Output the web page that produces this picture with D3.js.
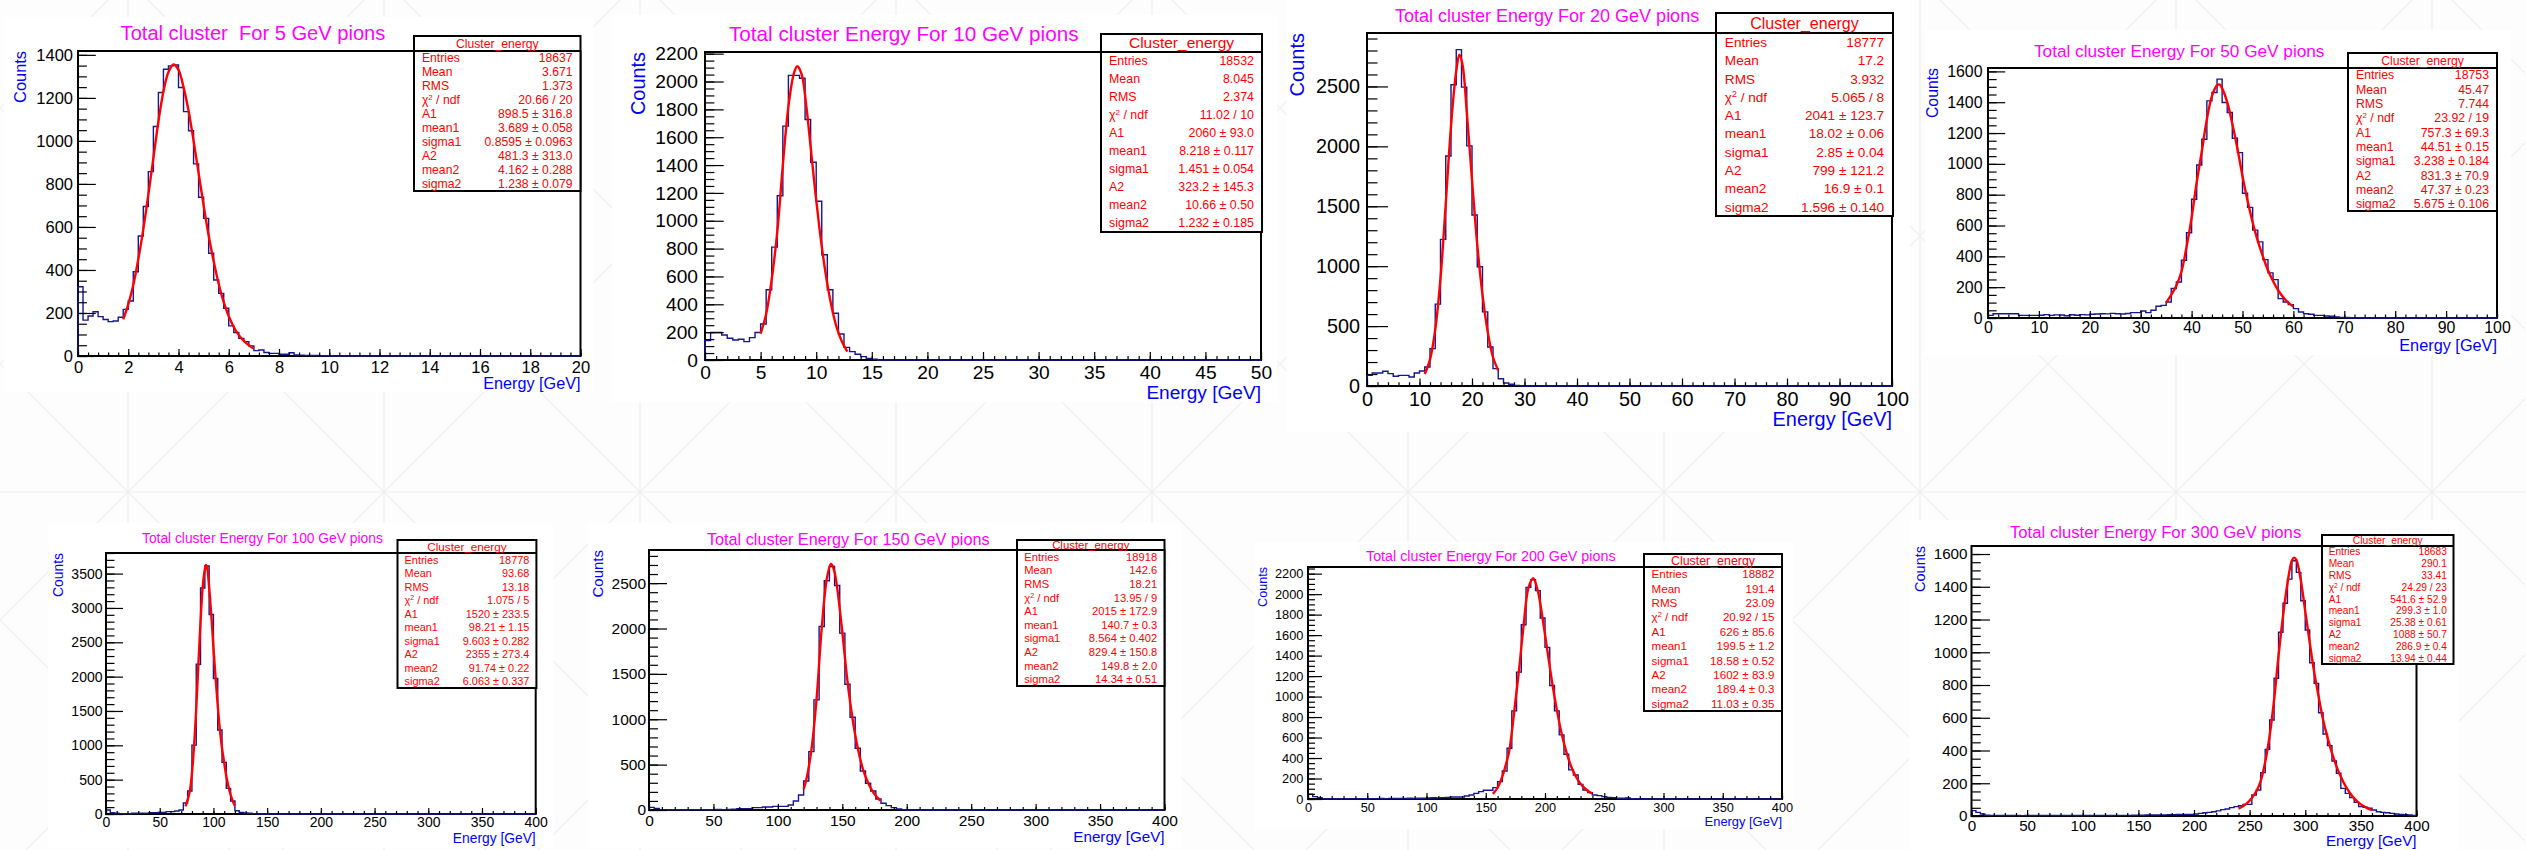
<!DOCTYPE html>
<html>
<head>
<meta charset="utf-8">
<script src="https://cdn.jsdelivr.net/npm/d3@7"></script>
<style>
body { margin: 0; background: #fdfdfd; }
svg { display: block; font-family: "Liberation Sans", Arial, Helvetica, sans-serif; }
text { white-space: pre; }
</style>
</head>
<body>
<svg id="chart" width="2526" height="850"></svg>
<script>
// ---- data ----
var energies = [5, 10, 20, 50, 100, 150, 200, 300];
var titles = [
  "Total cluster  For 5 GeV pions",
  "Total cluster Energy For 10 GeV pions",
  "Total cluster Energy For 20 GeV pions",
  "Total cluster Energy For 50 GeV pions",
  "Total cluster Energy For 100 GeV pions",
  "Total cluster Energy For 150 GeV pions",
  "Total cluster Energy For 200 GeV pions",
  "Total cluster Energy For 300 GeV pions"
];
var binWidths = [0.2, 0.5, 1, 1, 4, 4, 4, 4];
var xMaxes = [20, 50, 100, 100, 400, 400, 400, 400];
var statNames = ["Entries", "Mean", "RMS", "chi2", "A1", "mean1", "sigma1", "A2", "mean2", "sigma2"];

// bin contents from 0 upward; bins after the last listed one are empty
var counts5 = [322,167,186,206,183,170,160,163,180,217,256,392,558,695,857,1067,1225,1333,1349,1353,
  1248,1136,1047,893,738,640,478,353,291,222,140,109,82,67,47,25,28,16,12,12,8,8,15,5,4,3,2,2,1,1];
var counts10 = [139,197,197,180,156,144,149,132,161,197,259,504,811,1180,1680,2044,2044,2023,1727,1420,
  1140,756,504,336,187,91,60,41,24,12,5];
var counts20 = [89,109,109,123,103,81,89,89,75,109,125,159,312,683,1224,1920,2514,2807,2494,2004,
  1427,995,619,326,145,61,25,14,5];
var counts50 = [17,28,28,28,28,28,17,17,17,17,18,22,17,20,19,15,21,18,22,20,
  24,26,28,27,30,28,26,29,35,35,45,35,50,76,82,104,191,234,375,553,
  770,993,1160,1409,1463,1550,1398,1333,1166,1073,809,718,570,494,379,293,249,126,104,87,
  61,39,28,24,17,17,13,11,7,4,3];
var counts100 = [58,19,10,3,3,3,12,12,12,12,19,19,24,24,34,34,44,58,160,334,
  1003,2181,3291,3611,2904,1973,1222,751,373,189,48,24,15,10,5];
var counts150 = [29,18,3,2,4,3,2,3,4,2,3,3,4,5,4,6,8,15,15,15,
  26,26,33,33,40,40,40,55,99,165,320,643,1213,2022,2526,2684,2474,1949,1386,1022,
  680,430,294,210,121,74,48,26,11,4];
var counts200 = [46,23,13,4,3,3,4,3,3,4,3,4,3,4,4,5,4,5,6,5,
  6,7,6,8,9,10,12,11,13,15,20,20,20,29,39,55,72,85,85,111,
  170,274,495,860,1239,1701,2066,2141,2034,1767,1480,1108,860,626,437,284,235,143,88,62,
  39,33,23,16,13,7,7,10,3,2];
var counts300 = [33,22,12,5,4,4,3,3,3,3,3,2,3,3,3,3,3,3,3,3,
  3,3,3,3,3,3,3,3,3,3,3,3,4,4,4,4,5,5,5,6,
  6,6,7,7,8,8,9,10,10,10,12,16,20,22,26,31,39,43,51,57,
  63,71,71,128,159,265,407,586,841,1122,1299,1447,1559,1488,1315,1136,936,810,631,501,
  430,336,261,169,138,112,83,57,53,47,37,26,22,20,16,12,10,8,6,4];

// red fit curves (energy, counts)
var fitX5 = [1.8,2.0,2.2,2.4,2.6,2.8,3.0,3.2,3.4,3.6,3.8,4.0,4.2,4.4,4.6,4.8,5.0,5.2,5.4,5.6,5.8,6.0,6.2,6.4,6.6,6.8,7.0];
var fitY5 = [170,240,330,450,590,750,920,1090,1230,1320,1355,1330,1250,1140,1000,850,700,560,440,335,250,185,135,97,70,50,35];
var fitX10 = [5.0,5.5,6.0,6.5,7.0,7.5,8.0,8.3,8.7,9.1,9.5,9.9,10.3,10.7,11.1,11.5,11.9,12.3,12.8];
var fitY10 = [190,330,580,920,1400,1820,2060,2110,2050,1830,1530,1220,940,700,500,340,220,135,60];
var fitX20 = [11,12,13,14,15,16,17,17.6,18.2,19,20,21,22,23,24,25];
var fitY20 = [100,220,470,900,1520,2170,2630,2765,2680,2290,1720,1180,760,450,240,130];
var fitX50 = [35,36,37,38,39,40,41,42,43,44,45,45.5,46,47,48,49,50,51,52,53,54,55,56,57,58,59,60];
var fitY50 = [100,150,210,300,460,650,880,1080,1290,1440,1510,1515,1490,1400,1260,1100,920,760,620,500,400,310,240,180,135,100,75];
var fitX100 = [74,78,82,86,88,90,92,93,94,96,98,100,102,104,106,108,110,112,114,116,118,120];
var fitY100 = [110,330,1000,2180,2800,3300,3560,3625,3600,3300,2900,2430,1980,1580,1230,960,750,550,400,280,190,120];
var fitX150 = [120,122,126,130,134,138,141,142,144,146,150,154,158,162,166,170,174,178,180];
var fitY150 = [230,330,660,1220,2000,2550,2710,2700,2620,2450,1960,1420,1000,680,450,300,195,125,100];
var fitX200 = [156,160,164,168,170,174,178,182,186,190,194,198,202,206,210,214,218,222,226,230,234,238,240];
var fitY200 = [50,110,220,380,480,850,1250,1700,2060,2155,2030,1760,1450,1140,870,640,460,320,220,150,100,65,55];
var fitX300 = [240,244,248,252,256,260,264,268,272,276,280,284,288,290,292,296,300,304,308,312,316,320,324,328,332,336,340,344,348,352,356,360];
var fitY300 = [45,60,80,110,150,215,330,490,710,980,1220,1420,1560,1578,1565,1440,1250,1060,880,730,590,480,385,305,240,185,142,108,82,62,47,36];

// stats box values
var stats5 = ["18637","3.671","1.373","20.66 / 20","898.5 \u00b1 316.8","3.689 \u00b1 0.058","0.8595 \u00b1 0.0963","481.3 \u00b1 313.0","4.162 \u00b1 0.288","1.238 \u00b1 0.079"];
var stats10 = ["18532","8.045","2.374","11.02 / 10","2060 \u00b1 93.0","8.218 \u00b1 0.117","1.451 \u00b1 0.054","323.2 \u00b1 145.3","10.66 \u00b1 0.50","1.232 \u00b1 0.185"];
var stats20 = ["18777","17.2","3.932","5.065 / 8","2041 \u00b1 123.7","18.02 \u00b1 0.06","2.85 \u00b1 0.04","799 \u00b1 121.2","16.9 \u00b1 0.1","1.596 \u00b1 0.140"];
var stats50 = ["18753","45.47","7.744","23.92 / 19","757.3 \u00b1 69.3","44.51 \u00b1 0.15","3.238 \u00b1 0.184","831.3 \u00b1 70.9","47.37 \u00b1 0.23","5.675 \u00b1 0.106"];
var stats100 = ["18778","93.68","13.18","1.075 / 5","1520 \u00b1 233.5","98.21 \u00b1 1.15","9.603 \u00b1 0.282","2355 \u00b1 273.4","91.74 \u00b1 0.22","6.063 \u00b1 0.337"];
var stats150 = ["18918","142.6","18.21","13.95 / 9","2015 \u00b1 172.9","140.7 \u00b1 0.3","8.564 \u00b1 0.402","829.4 \u00b1 150.8","149.8 \u00b1 2.0","14.34 \u00b1 0.51"];
var stats200 = ["18882","191.4","23.09","20.92 / 15","626 \u00b1 85.6","199.5 \u00b1 1.2","18.58 \u00b1 0.52","1602 \u00b1 83.9","189.4 \u00b1 0.3","11.03 \u00b1 0.35"];
var stats300 = ["18683","290.1","33.41","24.29 / 23","541.6 \u00b1 52.9","299.3 \u00b1 1.0","25.38 \u00b1 0.61","1088 \u00b1 50.7","286.9 \u00b1 0.4","13.94 \u00b1 0.44"];

var allCounts = [counts5, counts10, counts20, counts50, counts100, counts150, counts200, counts300];
var allFitX = [fitX5, fitX10, fitX20, fitX50, fitX100, fitX150, fitX200, fitX300];
var allFitY = [fitY5, fitY10, fitY20, fitY50, fitY100, fitY150, fitY200, fitY300];
var allStats = [stats5, stats10, stats20, stats50, stats100, stats150, stats200, stats300];

// ---- layout of the eight pads (pixels) ----
var layout = [
  {x0:78, x1:580.5, y0:51, y1:356, yMax:1418, xStep:2, xMinor:0.4, yStep:200, yMinor:50, yTick:17.8, xTick:7, ylPad:5, xlPad:5,
   tickFont:16.5, titleFont:20.1, titleX:120.6, titleY:40, statFont:12.2, headFont:12.2, box:[414,580.5,36,191],
   axisFont:16.2, countsFont:16.4, countsX:20.6, energyY:383, canvas:[4,17,593,392]},
  {x0:705, x1:1261, y0:52, y1:360, yMax:2212, xStep:5, xMinor:1, yStep:200, yMinor:50, yTick:18.7, xTick:8, ylPad:7, xlPad:5,
   tickFont:19.2, titleFont:20.7, titleX:729, titleY:41, statFont:12.4, headFont:15.5, box:[1101,1262,34,232],
   axisFont:19.1, countsFont:19.9, countsX:638, energyY:392, canvas:[612,15,1277,402]},
  {x0:1367, x1:1892, y0:33, y1:386, yMax:2946, xStep:10, xMinor:2, yStep:500, yMinor:100, yTick:21, xTick:7.5, ylPad:7, xlPad:6,
   tickFont:19.8, titleFont:18, titleX:1395, titleY:22, statFont:13.6, headFont:16, box:[1716,1893,13,216],
   axisFont:19.9, countsFont:20, countsX:1297, energyY:419, canvas:[1287,0,1910,432]},
  {x0:1988, x1:2497, y0:68, y1:318, yMax:1622, xStep:10, xMinor:2, yStep:200, yMinor:50, yTick:17.2, xTick:7, ylPad:5.5, xlPad:4,
   tickFont:15.9, titleFont:17.2, titleX:2034, titleY:57, statFont:12.3, headFont:12.2, box:[2348,2497,53,211],
   axisFont:16.3, countsFont:15.8, countsX:1932, energyY:345, canvas:[1925,30,2511,355]},
  {x0:106, x1:535.7, y0:553, y1:814, yMax:3800, xStep:50, xMinor:10, yStep:500, yMinor:100, yTick:17, xTick:6, ylPad:3.5, xlPad:3.5,
   tickFont:14, titleFont:13.8, titleX:142, titleY:543, statFont:10.9, headFont:11.7, box:[397.5,536.4,540,688],
   axisFont:13.8, countsFont:13.9, countsX:58, energyY:838, canvas:[48,523,553,848]},
  {x0:649, x1:1164.5, y0:550, y1:810, yMax:2865, xStep:50, xMinor:10, yStep:500, yMinor:100, yTick:18, xTick:6, ylPad:3, xlPad:4.5,
   tickFont:15.5, titleFont:16.2, titleX:707, titleY:545, statFont:11.2, headFont:11.4, box:[1017,1164.5,540,686],
   axisFont:15.2, countsFont:15, countsX:598, energyY:837, canvas:[588,523,1181,848]},
  {x0:1308, x1:1782, y0:567, y1:799, yMax:2265, xStep:50, xMinor:10, yStep:200, yMinor:50, yTick:14, xTick:6, ylPad:4.6, xlPad:4.3,
   tickFont:12.8, titleFont:14.3, titleX:1366, titleY:561, statFont:11.6, headFont:12.4, box:[1644,1782,554,711],
   axisFont:12.9, countsFont:12.6, countsX:1263, energyY:821, canvas:[1254,542,1793,829]},
  {x0:1971.5, x1:2416.5, y0:546, y1:816, yMax:1649, xStep:50, xMinor:10, yStep:200, yMinor:50, yTick:18.5, xTick:6, ylPad:4, xlPad:4.6,
   tickFont:15.2, titleFont:16.7, titleX:2010, titleY:538, statFont:10.2, headFont:10.3, box:[2322,2453.5,535,664],
   axisFont:15.1, countsFont:14.5, countsX:1920, energyY:841, canvas:[1909,520,2459,850]}
];

var svg = d3.select("#chart");

// faint page background pattern
var bg = svg.append("g");
bg.append("rect").attr("width", 2526).attr("height", 850).attr("fill", "#fdfdfd");
d3.range(128 - 256 * 4, 2526 + 256 * 4, 256).forEach(function(gx) {
  bg.append("line").attr("x1", gx).attr("x2", gx).attr("y1", 0).attr("y2", 850);
  bg.append("line").attr("x1", gx - 492).attr("y1", 0).attr("x2", gx + 358).attr("y2", 850);
  bg.append("line").attr("x1", gx + 492).attr("y1", 0).attr("x2", gx - 358).attr("y2", 850);
});
bg.append("line").attr("x1", 0).attr("x2", 2526).attr("y1", 492).attr("y2", 492);
bg.selectAll("line").attr("stroke", "#efefef").attr("stroke-width", 1.2);

layout.forEach(function(p, n) {
  var g = svg.append("g").attr("class", "pad pad" + energies[n]);
  var c = p.canvas;
  g.append("rect").attr("x", c[0]).attr("y", c[1]).attr("width", c[2] - c[0]).attr("height", c[3] - c[1]).attr("fill", "#fff");

  var xMax = xMaxes[n], bw = binWidths[n], counts = allCounts[n];
  var x = d3.scaleLinear().domain([0, xMax]).range([p.x0, p.x1]);
  var y = d3.scaleLinear().domain([0, p.yMax]).range([p.y1, p.y0]);

  // frame
  g.append("rect").attr("x", p.x0).attr("y", p.y0).attr("width", p.x1 - p.x0).attr("height", p.y1 - p.y0)
    .attr("fill", "none").attr("stroke", "#000").attr("stroke-width", 2);

  // histogram outline
  var pts = [[0, 0]].concat(counts.map(function(v, i) { return [i * bw, v]; }));
  pts.push([counts.length * bw, 0]);
  pts.push([xMax, 0]);
  g.append("path")
    .attr("d", d3.line().x(function(d) { return x(d[0]); }).y(function(d) { return y(d[1]); }).curve(d3.curveStepAfter)(pts))
    .attr("fill", "none").attr("stroke", "#16168f").attr("stroke-width", 1.4);

  // fit curve
  var fx = allFitX[n], fy = allFitY[n];
  g.append("path")
    .attr("d", d3.line().x(function(d, i) { return x(fx[i]); }).y(function(d, i) { return y(fy[i]); })
      .curve(d3.curveCatmullRom.alpha(0.5))(fx))
    .attr("fill", "none").attr("stroke", "#ff0000").attr("stroke-width", 2.4);

  // axes, ROOT style ticks on the inside
  var xMaj = d3.range(0, xMax + 1e-6, p.xStep), xMin = d3.range(0, xMax + 1e-6, p.xMinor);
  var yMaj = d3.range(0, p.yMax + 1e-6, p.yStep), yMin = d3.range(0, p.yMax + 1e-6, p.yMinor);
  var fmt = function(v) { return String(Math.round(v)); };

  g.append("g").attr("transform", "translate(0," + p.y1 + ")")
    .call(d3.axisBottom(x).tickValues(xMin).tickSize(-p.xTick / 2).tickFormat(""));
  var xa = g.append("g").attr("transform", "translate(0," + p.y1 + ")")
    .call(d3.axisBottom(x).tickValues(xMaj).tickSize(-p.xTick).tickPadding(p.xlPad).tickFormat(fmt));
  g.append("g").attr("transform", "translate(" + p.x0 + ",0)")
    .call(d3.axisLeft(y).tickValues(yMin).tickSize(-p.yTick / 2).tickFormat(""));
  var ya = g.append("g").attr("transform", "translate(" + p.x0 + ",0)")
    .call(d3.axisLeft(y).tickValues(yMaj).tickSize(-p.yTick).tickPadding(p.ylPad).tickFormat(fmt));
  g.selectAll(".domain").remove();
  g.selectAll(".tick line").attr("stroke", "#000").attr("stroke-width", 1.2);
  xa.selectAll("text").attr("font-size", p.tickFont).attr("fill", "#000");
  ya.selectAll("text").attr("font-size", p.tickFont).attr("fill", "#000");
  xa.attr("font-family", null);
  ya.attr("font-family", null);

  // axis titles
  g.append("text").attr("x", p.x1).attr("y", p.energyY).attr("dy", "0.35em").attr("text-anchor", "end")
    .attr("font-size", p.axisFont).attr("fill", "#0000ff").text("Energy [GeV]");
  g.append("text").attr("transform", "translate(" + p.countsX + "," + p.y0 + ") rotate(-90)")
    .attr("dy", "0.35em").attr("text-anchor", "end")
    .attr("font-size", p.countsFont).attr("fill", "#0000ff").text("Counts");

  // title
  g.append("text").attr("x", p.titleX).attr("y", p.titleY).attr("font-size", p.titleFont)
    .attr("fill", "#ff00ff").text(titles[n]);

  // stats box
  var b = p.box;
  g.append("rect").attr("x", b[0]).attr("y", b[2]).attr("width", b[1] - b[0]).attr("height", b[3] - b[2])
    .attr("fill", "#fff").attr("stroke", "#000").attr("stroke-width", 2);
  g.append("line").attr("x1", b[0]).attr("x2", b[1]).attr("y1", p.y0).attr("y2", p.y0)
    .attr("stroke", "#000").attr("stroke-width", 2);
  g.append("text").attr("x", (b[0] + b[1]) / 2).attr("y", (b[2] + p.y0) / 2).attr("dy", "0.35em")
    .attr("text-anchor", "middle").attr("font-size", p.headFont).attr("fill", "#ff0000").text("Cluster_energy");

  var rowH = (b[3] - p.y0) / statNames.length, pad = 0.65 * p.statFont;
  statNames.forEach(function(name, i) {
    var ry = p.y0 + (i + 0.5) * rowH;
    var lt = g.append("text").attr("x", b[0] + pad).attr("y", ry).attr("dy", "0.35em")
      .attr("font-size", p.statFont).attr("fill", "#ff0000");
    if (name === "chi2") {
      lt.append("tspan").text("\u03c7");
      lt.append("tspan").attr("baseline-shift", "super").attr("font-size", p.statFont * 0.65).text("2");
      lt.append("tspan").text(" / ndf");
    } else {
      lt.text(name);
    }
    g.append("text").attr("x", b[1] - pad).attr("y", ry).attr("dy", "0.35em").attr("text-anchor", "end")
      .attr("font-size", p.statFont).attr("fill", "#ff0000").text(allStats[n][i]);
  });
});
</script>
</body>
</html>
